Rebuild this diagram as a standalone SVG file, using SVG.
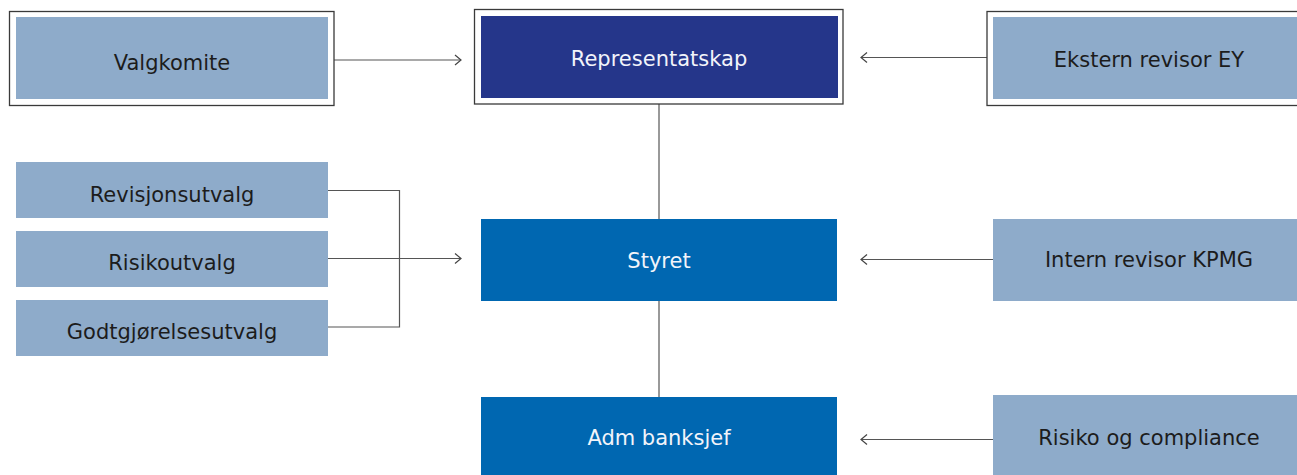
<svg xmlns="http://www.w3.org/2000/svg" width="1297" height="475" viewBox="0 0 1297 475">
  <defs>
    <marker id="chev" markerWidth="8" markerHeight="12" refX="7" refY="6" orient="auto" markerUnits="userSpaceOnUse">
      <path d="M1,1 L7,6 L1,11" fill="none" stroke="#444" stroke-width="1.2"/>
    </marker>
    <style>
      .frame { fill: #fff; stroke: #3a3a3a; stroke-width: 1.3; }
      .light { fill: #8eabca; }
      .navy { fill: #25368a; }
      .blue { fill: #0067b1; }
      .lbl { font-family: "DejaVu Sans", "Liberation Sans", sans-serif; font-size: 21px; font-weight: 400; text-anchor: middle; }
      .dark { fill: #1c1c1c; }
      .white { fill: #f2f4fa; }
      .conn { fill: none; stroke: #555; stroke-width: 1.2; }
    </style>
  </defs>
  <rect width="1297" height="475" fill="#fff"/>

  <!-- connectors -->
  <g id="connectors">
    <line class="conn" x1="334" y1="60" x2="461" y2="60" marker-end="url(#chev)"/>
    <line class="conn" x1="987" y1="57.5" x2="861" y2="57.5" marker-end="url(#chev)"/>
    <line class="conn" x1="659" y1="104" x2="659" y2="219"/>
    <line class="conn" x1="659" y1="301" x2="659" y2="397"/>
    <path class="conn" d="M328,190.5 H399.5 V327 H328"/>
    <line class="conn" x1="328" y1="258.5" x2="461" y2="258.5" marker-end="url(#chev)"/>
    <line class="conn" x1="993" y1="259.5" x2="861" y2="259.5" marker-end="url(#chev)"/>
    <line class="conn" x1="993" y1="439.5" x2="861" y2="439.5" marker-end="url(#chev)"/>
  </g>

  <!-- top row -->
  <g id="valgkomite">
    <rect class="frame" x="9.5" y="11.5" width="324.5" height="94"/>
    <rect class="light" x="16" y="17" width="312" height="82"/>
    <text class="lbl dark" x="172" y="69.5">Valgkomite</text>
  </g>
  <g id="representatskap">
    <rect class="frame" x="474.5" y="9.5" width="368.5" height="94.5"/>
    <rect class="navy" x="481" y="16" width="357" height="82"/>
    <text class="lbl white" x="659" y="66">Representatskap</text>
  </g>
  <g id="ekstern-revisor">
    <rect class="frame" x="987" y="11.5" width="330" height="94"/>
    <rect class="light" x="993" y="17" width="320" height="82"/>
    <text class="lbl dark" x="1149" y="66.5">Ekstern revisor EY</text>
  </g>

  <!-- committees -->
  <g id="revisjonsutvalg">
    <rect class="light" x="16" y="162" width="312" height="56"/>
    <text class="lbl dark" x="172" y="201.5">Revisjonsutvalg</text>
  </g>
  <g id="risikoutvalg">
    <rect class="light" x="16" y="231" width="312" height="56"/>
    <text class="lbl dark" x="172" y="270">Risikoutvalg</text>
  </g>
  <g id="godtgjorelsesutvalg">
    <rect class="light" x="16" y="300" width="312" height="56"/>
    <text class="lbl dark" x="172" y="339">Godtgjørelsesutvalg</text>
  </g>

  <!-- middle row -->
  <g id="styret">
    <rect class="blue" x="481" y="219" width="356" height="82"/>
    <text class="lbl white" x="659" y="267.5">Styret</text>
  </g>
  <g id="intern-revisor">
    <rect class="light" x="993" y="219" width="320" height="82"/>
    <text class="lbl dark" x="1149" y="267">Intern revisor KPMG</text>
  </g>

  <!-- bottom row -->
  <g id="adm-banksjef">
    <rect class="blue" x="481" y="397" width="356" height="82"/>
    <text class="lbl white" x="659" y="445">Adm banksjef</text>
  </g>
  <g id="risiko-compliance">
    <rect class="light" x="993" y="395" width="320" height="84"/>
    <text class="lbl dark" x="1149" y="445">Risiko og compliance</text>
  </g>
</svg>
